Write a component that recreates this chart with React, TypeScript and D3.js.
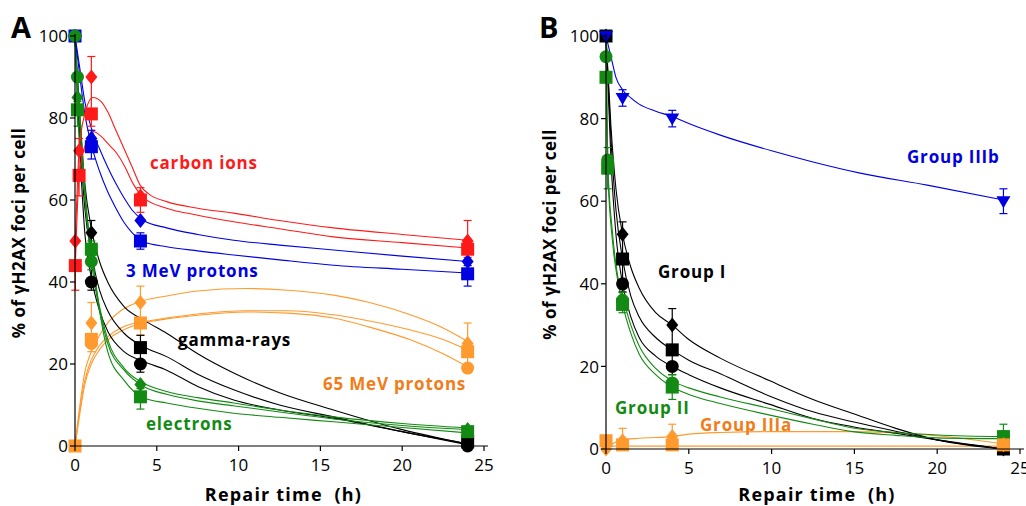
import React from 'react';
import * as d3 from 'd3';

// ---- colours
const RED = '#ff1a1a';
const BLUE = '#0000e0';
const BLACK = '#000000';
const GREEN = '#138a13';
const ORANGE = '#ff9a2e';
const ORANGE_TXT = '#f07d1a';

type Pt = [number, number];
type Err = [number, number, number]; // t, low, high

// ---- panel A: fitted curves
const aRedUpper: Pt[] = [[0.02, 50], [0.25, 72], [0.6, 81], [1.1, 85], [1.6, 84], [2, 81.5], [2.5, 77], [3, 72.5], [3.5, 68], [4, 63.5], [4.5, 61.5], [5.6, 59.6], [7.5, 58], [9.7, 56.8], [12.5, 55], [15.8, 53.2], [20, 51.6], [24, 50.2]];
const aRedLower: Pt[] = [[0.02, 44], [0.25, 66], [0.6, 73], [1.1, 76.7], [1.6, 75.5], [2, 73.8], [2.55, 71.4], [3, 68.5], [3.55, 64], [4.2, 60.5], [5.6, 58], [7.5, 56.3], [9.7, 54.7], [12.5, 53], [15.8, 51], [20, 49.6], [24, 48.3]];
const aBlueUpper: Pt[] = [[0, 100], [0.3, 92], [0.6, 84], [1, 77.5], [1.5, 72.5], [2, 68], [2.5, 64], [3, 60.5], [3.5, 57.5], [4.2, 55], [5.6, 53.2], [7.5, 51.6], [9.7, 50.2], [12.5, 49], [15.8, 47.8], [20, 46.3], [24, 45]];
const aBlueLower: Pt[] = [[0, 100], [0.3, 90], [0.6, 81], [1, 73.5], [1.5, 67], [2, 62], [2.5, 58], [3, 54.5], [3.5, 52], [4.2, 49.8], [5.6, 48.6], [7.5, 47.6], [9.7, 46.6], [12.5, 45.4], [15.8, 44.1], [20, 43.1], [24, 42.2]];
const aOrangeUpper: Pt[] = [[0, 0], [0.3, 10], [0.6, 18], [1, 23], [1.5, 27], [2.1, 30.5], [2.8, 33], [3.5, 34.5], [4.2, 35.5], [5.6, 36.6], [7.5, 37.8], [10.5, 38.4], [13, 38], [15.8, 36.8], [18, 35], [20.5, 32], [22.5, 28.8], [24, 25.5]];
const aOrangeMid: Pt[] = [[0, 0], [0.3, 9], [0.6, 16], [1, 21], [1.5, 24.5], [2.1, 27], [2.8, 28.8], [3.5, 29.8], [4.2, 30.3], [5.6, 31.2], [7.5, 32.2], [10.5, 33], [13, 33], [15.8, 32], [18, 30.5], [20.5, 28.3], [22.5, 26], [24, 23.4]];
const aOrangeLower: Pt[] = [[0, 0], [0.3, 8], [0.6, 15], [1, 20], [1.5, 23.5], [2.1, 26.2], [2.8, 28], [3.5, 29.2], [4.2, 30], [5.6, 31], [7.5, 31.9], [10.5, 32.7], [13, 32.4], [15.8, 31.2], [18, 29], [20.5, 25.9], [22.5, 22.5], [24, 19.3]];
const aBlackUpper: Pt[] = [[0, 100], [0.3, 80], [0.6, 64], [1, 53], [1.5, 45], [2, 40], [3, 34], [4.2, 30.7], [5.6, 27.5], [7.5, 22.5], [9.7, 17.8], [12.5, 13], [15.8, 8.8], [20, 4], [24, 0.5]];
const aBlackMid: Pt[] = [[0, 100], [0.3, 76], [0.6, 58], [1, 47], [1.5, 38], [2, 33], [3, 27.5], [4.2, 24.2], [5.6, 21.8], [7.5, 17.5], [9.7, 13.7], [12.5, 10], [15.8, 7.1], [20, 3.5], [24, 0.5]];
const aBlackLower: Pt[] = [[0, 100], [0.3, 72], [0.6, 52], [1, 41], [1.5, 33], [2, 28], [3, 23], [4.2, 20.6], [5.6, 18.5], [7.5, 14.5], [9.7, 11.2], [12.5, 8.8], [15.8, 6.8], [20, 3.5], [24, 0.3]];
const aGreenUpper: Pt[] = [[0, 100], [0.15, 90], [0.4, 75], [0.7, 58], [1, 47], [1.5, 34], [2, 26], [3, 19], [4.2, 15.3], [5.6, 13.3], [7.5, 11.8], [9.7, 10.5], [12.5, 8.8], [15.8, 7.1], [20, 5.5], [24, 4.4]];
const aGreenMid: Pt[] = [[0, 100], [0.15, 88], [0.4, 72], [0.7, 56], [1, 45], [1.5, 33], [2, 25], [3, 18.5], [4.2, 14.5], [5.6, 12.6], [7.5, 11], [9.7, 9.8], [12.5, 8.3], [15.8, 6.6], [20, 5], [24, 4]];
const aGreenLower: Pt[] = [[0, 100], [0.15, 82], [0.4, 70], [0.7, 57], [1, 48], [1.5, 33], [2, 23], [3, 16], [4.2, 11.7], [5.6, 10.5], [7.5, 9.2], [9.7, 8], [12.5, 7], [15.8, 5.9], [20, 4.5], [24, 3.2]];

// ---- panel A: measured points
const aRedDiamond: Pt[] = [[0.02, 50], [0.25, 72], [1, 90], [4, 61], [24, 50]];
const aRedSquare: Pt[] = [[0.02, 44], [0.25, 66], [1, 81], [4, 60], [24, 48]];
const aRedErr: Err[] = [[0.02, 38, 50], [0.25, 61, 75], [1, 78, 95], [4, 57, 63], [24, 46, 55]];
const aBlueDiamond: Pt[] = [[1, 75], [4, 55], [24, 45]];
const aBlueSquare: Pt[] = [[0, 100], [1, 73], [4, 50], [24, 42]];
const aBlueErr: Err[] = [[1, 70, 77], [4, 48, 52], [24, 39, 44]];
const aBlackDiamond: Pt[] = [[1, 52]];
const aBlackSquare: Pt[] = [[4, 24], [24, 1]];
const aBlackCircle: Pt[] = [[0, 100], [1, 40], [4, 20], [24, 0]];
const aBlackErr: Err[] = [[1, 38, 55], [4, 18, 27]];
const aGreenCircle: Pt[] = [[0, 100], [0.15, 90], [1, 45]];
const aGreenDiamond: Pt[] = [[0.15, 85], [1, 47], [4, 15], [24, 4]];
const aGreenSquare: Pt[] = [[0.15, 82], [1, 48], [4, 12], [24, 3.5]];
const aGreenErr: Err[] = [[0.15, 78, 84], [1, 43, 50], [4, 9, 14]];
const aOrangeDiamond: Pt[] = [[1, 30], [4, 35], [24, 25]];
const aOrangeSquare: Pt[] = [[0, 0], [1, 26], [4, 30], [24, 23]];
const aOrangeCircle: Pt[] = [[1, 25], [24, 19]];
const aOrangeErr: Err[] = [[1, 23, 35], [4, 27, 39], [24, 18, 30]];

// ---- panel B: fitted curves
const bBlue: Pt[] = [[0, 100], [0.3, 95], [0.6, 90], [1, 87], [1.5, 85], [2, 83.5], [3, 81.8], [4, 80.5], [5, 78.8], [6.9, 76], [10, 72.2], [12.5, 69.5], [15.35, 66.8], [19.4, 63.9], [24, 60.3]];
const bBlackUpper: Pt[] = [[0, 100], [0.3, 78], [0.6, 63], [1, 52], [1.5, 44], [2, 39], [3, 33], [4, 30], [5, 26.5], [6.9, 22], [9.9, 16.5], [12.5, 12], [14.9, 8.6], [17.5, 5], [20, 2.2], [24, 0]];
const bBlackMid: Pt[] = [[0, 100], [0.3, 75], [0.6, 58], [1, 46], [1.5, 37], [2, 32], [3, 27], [4, 24], [5, 21.5], [6.9, 18.2], [9.9, 12.8], [12.5, 9], [14.9, 6.6], [17.5, 4.3], [20, 2.2], [24, 0]];
const bBlackLower: Pt[] = [[0, 100], [0.3, 70], [0.6, 52], [1, 40], [1.5, 32], [2, 27], [3, 22.5], [4, 20], [5, 18], [6.9, 14.8], [9.9, 10.8], [12.5, 7.4], [14.9, 5.4], [17.5, 3.8], [20, 2.2], [24, 0]];
const bGreenUpper: Pt[] = [[0, 100], [0.1, 70], [0.4, 52], [0.7, 42], [1, 37], [1.5, 30], [2, 25], [3, 19.5], [4, 16.5], [5, 14.8], [6.9, 12.6], [9.9, 9.8], [12.5, 7.3], [14.9, 5.1], [17.5, 4], [20, 3.4], [24, 3]];
const bGreenLower: Pt[] = [[0, 100], [0.1, 68], [0.4, 50], [0.7, 41], [1, 35], [1.5, 28], [2, 23], [3, 18], [4, 15], [5, 13.2], [6.9, 11], [9.9, 8.2], [12.5, 6], [14.9, 4.2], [17.5, 3.3], [20, 2.7], [24, 2.5]];
const bOrangeUpper: Pt[] = [[0, 0], [0.5, 1.5], [1, 2.2], [2, 2.6], [4, 3], [5, 3.6], [7, 4], [10, 4.2], [15, 4.2], [18, 3.8], [20, 3.2], [22, 2.3], [24, 1.2]];
const bOrangeLower: Pt[] = [[0, 0.7], [24, 0.7]];

// ---- panel B: measured points
const bBlueTri: Pt[] = [[0, 100], [1, 85], [4, 80], [24, 60]];
const bBlueErr: Err[] = [[0, 99, 101], [1, 83, 87], [4, 78, 82], [24, 57, 63]];
const bBlackDiamond: Pt[] = [[0, 100], [1, 52], [4, 30], [24, 0]];
const bBlackSquare: Pt[] = [[0, 100], [1, 46], [4, 24], [24, 0]];
const bBlackCircle: Pt[] = [[1, 40], [4, 20]];
const bBlackErr: Err[] = [[1, 38, 55], [4, 18, 34]];
const bGreenCircle: Pt[] = [[0, 95], [0.1, 70], [1, 36], [4, 16], [24, 3]];
const bGreenSquare: Pt[] = [[0, 90], [0.1, 68], [1, 35], [4, 15], [24, 3]];
const bGreenErr: Err[] = [[0.1, 63, 73], [1, 33, 38], [4, 12, 18], [24, 2, 6]];
const bOrangeDiamond: Pt[] = [[0, 0], [1, 2], [4, 3], [24, 1]];
const bOrangeSquare: Pt[] = [[0, 2], [1, 1], [4, 1], [24, 1]];
const bOrangeErr: Err[] = [[1, 0, 5], [4, 0, 6]];

const yTicks = [0, 20, 40, 60, 80, 100];
const xTicks = [0, 5, 10, 15, 20, 25];

const FONT = '"Open Sans", "Noto Sans", sans-serif';

const Marker = ({ shape, x, y, color }: { shape: string; x: number; y: number; color: string }) => {
  if (shape === 'square') return <rect x={x - 6.5} y={y - 6.5} width={13} height={13} fill={color} />;
  if (shape === 'circle') return <circle cx={x} cy={y} r={6.5} fill={color} />;
  if (shape === 'diamond') return <path d={`M${x},${y - 7.5}L${x + 6},${y}L${x},${y + 7.5}L${x - 6},${y}Z`} fill={color} />;
  // triangle down
  return <path d={`M${x - 7},${y - 5}L${x + 7},${y - 5}L${x},${y + 7}Z`} fill={color} />;
};

const Panel = ({ x, y, curves, points, errs, labels, letter, letterX, axisEnd }: any) => {
  const line = d3.line<Pt>().x(d => x(d[0])).y(d => y(d[1])).curve(d3.curveMonotoneX);
  const x0 = x(0), y0 = y(0);
  return (
    <g>
      {curves.map((c: any, i: number) => (
        <path key={i} d={line(c.data) || ''} fill="none" stroke={c.color} strokeWidth={1.1} />
      ))}
      {errs.map((e: any, i: number) => e.data.map((d: Err, j: number) => (
        <g key={`${i}-${j}`} stroke={e.color} strokeWidth={1.2}>
          <line x1={x(d[0])} x2={x(d[0])} y1={y(d[1])} y2={y(d[2])} />
          <line x1={x(d[0]) - 4} x2={x(d[0]) + 4} y1={y(d[1])} y2={y(d[1])} />
          <line x1={x(d[0]) - 4} x2={x(d[0]) + 4} y1={y(d[2])} y2={y(d[2])} />
        </g>
      )))}
      {points.map((p: any, i: number) => p.data.map((d: Pt, j: number) => (
        <Marker key={`${i}-${j}`} shape={p.shape} x={x(d[0])} y={y(d[1])} color={p.color} />
      )))}
      {/* axes */}
      <line x1={x0} x2={x0} y1={y0} y2={y(100) - 2} stroke="#000" strokeWidth={1.2} />
      <line x1={x0} x2={axisEnd} y1={y0} y2={y0} stroke="#000" strokeWidth={1.2} />
      {yTicks.map(t => (
        <g key={t}>
          <line x1={x0 - 5} x2={x0} y1={y(t)} y2={y(t)} stroke="#000" strokeWidth={1.2} />
          <text x={x0 - 7} y={y(t)} dy="0.36em" textAnchor="end" fontSize={17} fontFamily={FONT}>{t}</text>
        </g>
      ))}
      {xTicks.map(t => (
        <g key={t}>
          <line x1={x(t)} x2={x(t)} y1={y0} y2={y0 + 5} stroke="#000" strokeWidth={1.2} />
          <text x={x(t)} y={y0 + 25} textAnchor="middle" fontSize={17} fontFamily={FONT}>{t}</text>
        </g>
      ))}
      <text x={(x(0) + x(25)) / 2 + 4} y={501} textAnchor="middle" fontSize={18} fontWeight="bold" letterSpacing={1.2} fontFamily={FONT} style={{ whiteSpace: 'pre' }}>Repair time  (h)</text>
      <text transform={`translate(${x0 - 50},${(y(0) + y(100)) / 2 - 8}) rotate(-90)`} textAnchor="middle" fontSize={17} fontWeight="bold" letterSpacing={0.5} fontFamily={FONT}>% of γH2AX foci per cell</text>
      <text x={letterX} y={38} fontSize={29} fontWeight="bold" fontFamily={FONT}>{letter}</text>
      {labels.map((l: any, i: number) => (
        <text key={i} x={l.x} y={l.y} fill={l.color} fontSize={17} fontWeight="bold" letterSpacing={0.8} fontFamily={FONT}>{l.text}</text>
      ))}
    </g>
  );
};

export default function App() {
  const xA = d3.scaleLinear().domain([0, 25]).range([75, 484]);
  const yA = d3.scaleLinear().domain([0, 100]).range([446, 36]);
  const xB = d3.scaleLinear().domain([0, 25]).range([606, 1020]);
  const yB = d3.scaleLinear().domain([0, 100]).range([449, 36]);

  const curvesA = [
    { data: aOrangeUpper, color: ORANGE }, { data: aOrangeMid, color: ORANGE }, { data: aOrangeLower, color: ORANGE },
    { data: aBlackUpper, color: BLACK }, { data: aBlackMid, color: BLACK }, { data: aBlackLower, color: BLACK },
    { data: aGreenUpper, color: GREEN }, { data: aGreenMid, color: GREEN }, { data: aGreenLower, color: GREEN },
    { data: aBlueUpper, color: BLUE }, { data: aBlueLower, color: BLUE },
    { data: aRedUpper, color: RED }, { data: aRedLower, color: RED },
  ];
  const errsA = [
    { data: aOrangeErr, color: ORANGE }, { data: aBlackErr, color: BLACK }, { data: aGreenErr, color: GREEN },
    { data: aBlueErr, color: BLUE }, { data: aRedErr, color: RED },
  ];
  const pointsA = [
    { data: aOrangeCircle, shape: 'circle', color: ORANGE }, { data: aOrangeDiamond, shape: 'diamond', color: ORANGE }, { data: aOrangeSquare, shape: 'square', color: ORANGE },
    { data: aBlackCircle, shape: 'circle', color: BLACK }, { data: aBlackDiamond, shape: 'diamond', color: BLACK }, { data: aBlackSquare, shape: 'square', color: BLACK },
    { data: aBlueDiamond, shape: 'diamond', color: BLUE }, { data: aBlueSquare, shape: 'square', color: BLUE },
    { data: aRedDiamond, shape: 'diamond', color: RED }, { data: aRedSquare, shape: 'square', color: RED },
    { data: aGreenSquare, shape: 'square', color: GREEN }, { data: aGreenDiamond, shape: 'diamond', color: GREEN }, { data: aGreenCircle, shape: 'circle', color: GREEN },
  ];
  const labelsA = [
    { text: 'carbon ions', x: 150, y: 169, color: RED },
    { text: '3 MeV protons', x: 126, y: 277, color: BLUE },
    { text: 'gamma-rays', x: 178, y: 346, color: BLACK },
    { text: '65 MeV protons', x: 323, y: 390, color: ORANGE_TXT },
    { text: 'electrons', x: 146, y: 430, color: GREEN },
  ];

  const curvesB = [
    { data: bOrangeUpper, color: ORANGE }, { data: bOrangeLower, color: ORANGE },
    { data: bBlackUpper, color: BLACK }, { data: bBlackMid, color: BLACK }, { data: bBlackLower, color: BLACK },
    { data: bGreenUpper, color: GREEN }, { data: bGreenLower, color: GREEN },
    { data: bBlue, color: BLUE },
  ];
  const errsB = [
    { data: bOrangeErr, color: ORANGE }, { data: bBlackErr, color: BLACK }, { data: bGreenErr, color: GREEN }, { data: bBlueErr, color: BLUE },
  ];
  const pointsB = [
    { data: bBlackCircle, shape: 'circle', color: BLACK }, { data: bBlackSquare, shape: 'square', color: BLACK }, { data: bBlackDiamond, shape: 'diamond', color: BLACK },
    { data: bGreenCircle, shape: 'circle', color: GREEN }, { data: bGreenSquare, shape: 'square', color: GREEN },
    { data: bOrangeDiamond, shape: 'diamond', color: ORANGE }, { data: bOrangeSquare, shape: 'square', color: ORANGE },
    { data: bBlueTri, shape: 'tri', color: BLUE },
  ];
  const labelsB = [
    { text: 'Group IIIb', x: 907, y: 163, color: BLUE },
    { text: 'Group I', x: 658, y: 278, color: BLACK },
    { text: 'Group II', x: 615, y: 414, color: GREEN },
    { text: 'Group IIIa', x: 700, y: 431, color: ORANGE_TXT },
  ];

  return (
    <svg width={1026} height={506} style={{ position: 'absolute', left: 0, top: 0, background: '#fff' }}>
      <Panel x={xA} y={yA} curves={curvesA} points={pointsA} errs={errsA} labels={labelsA} letter="A" letterX={11} axisEnd={488} />
      <Panel x={xB} y={yB} curves={curvesB} points={pointsB} errs={errsB} labels={labelsB} letter="B" letterX={539} axisEnd={1024} />
    </svg>
  );
}
